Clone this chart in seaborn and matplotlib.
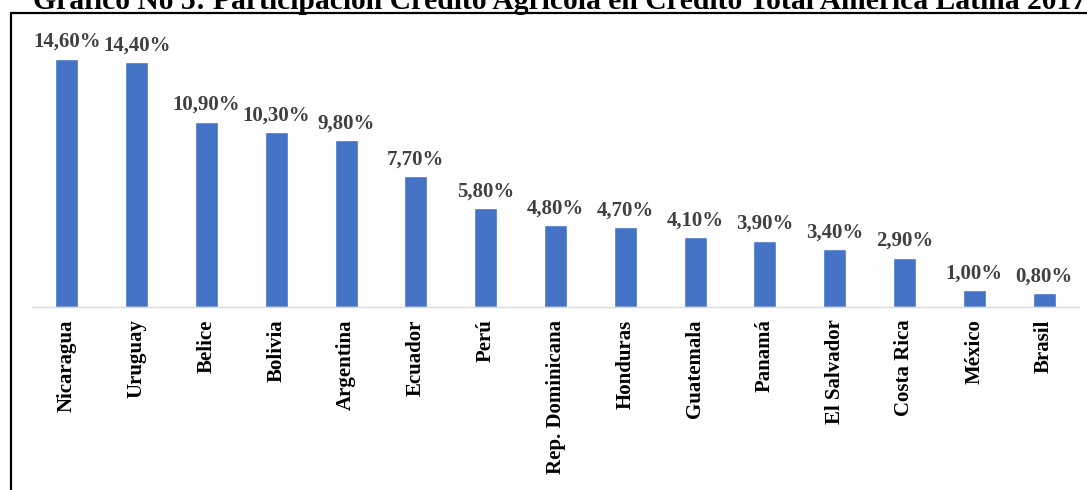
import numpy as np
import pandas as pd
import matplotlib.pyplot as plt
import seaborn as sns
from matplotlib.lines import Line2D

paises = ["Nicaragua", "Uruguay", "Belice", "Bolivia", "Argentina", "Ecuador", "Perú",
          "Rep. Dominicana", "Honduras", "Guatemala", "Panamá", "El Salvador",
          "Costa Rica", "México", "Brasil"]
participacion = [14.6, 14.4, 10.9, 10.3, 9.8, 7.7, 5.8, 4.8, 4.7, 4.1, 3.9, 3.4, 2.9, 1.0, 0.8]
titulo = "Gráfico No 5: Participación Crédito Agrícola en Crédito Total América Latina 2017"

df = pd.DataFrame({"pais": paises, "valor": participacion})

sns.set_style("white")
plt.rcParams["font.family"] = ["Liberation Serif", "DejaVu Serif"]

fig = plt.figure(figsize=(10.87, 4.9), dpi=100)
ax = fig.add_axes([32/1087, 1 - 307/490, 1047/1087, 287/490])

sns.barplot(data=df, x="pais", y="valor", color="#4472C4", saturation=1, width=0.33, ax=ax)

ax.set_ylim(0, 287/17)
ax.set_xlim(-0.5, len(paises) - 0.5)
for i, v in enumerate(participacion):
    ax.text(i, v + 0.4, f"{v:.2f}%".replace(".", ","), ha="center", va="bottom",
            fontsize=15, fontweight="bold", color="#404040")

ax.set_xlabel("")
ax.set_ylabel("")
ax.set_yticks([])
ax.tick_params(axis="x", length=0, pad=9)
plt.setp(ax.get_xticklabels(), rotation=90, fontsize=15, fontweight="bold", color="black")
for s in ["top", "right", "left"]:
    ax.spines[s].set_visible(False)
ax.spines["bottom"].set_color("#D9D9D9")
ax.spines["bottom"].set_linewidth(1)

# marco
fig.add_artist(Line2D([11/1087, 1], [1 - 13/490, 1 - 13/490], color="black", lw=1.6, transform=fig.transFigure))
fig.add_artist(Line2D([11/1087, 11/1087], [0, 1 - 13/490], color="black", lw=1.6, transform=fig.transFigure))

# titulo recortado por arriba, como en la imagen original
fig.text(33/1087, 1 - 9/490, titulo, ha="left", va="baseline", fontsize=21.3, fontweight="bold", color="black")

fig.savefig("out.png", dpi=100)
